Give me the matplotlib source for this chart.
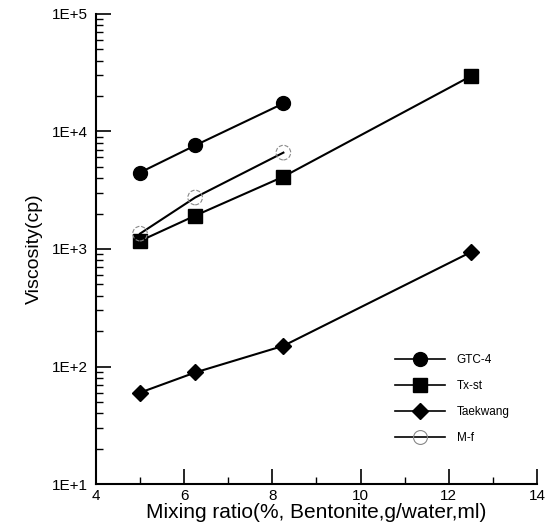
import matplotlib.pyplot as plt
from matplotlib.lines import Line2D
from matplotlib.legend_handler import HandlerTuple
from matplotlib.ticker import FixedLocator, LogLocator, NullFormatter

plt.rcParams['font.family'] = ['Liberation Sans', 'DejaVu Sans']

# mixing ratio (%) and viscosity (cp)
gtc_x = [5, 6.25, 8.25]
gtc_y = [4470, 7600, 17300]
txst_x = [5, 6.25, 8.25, 12.5]
txst_y = [1170, 1920, 4120, 29500]
taek_x = [5, 6.25, 8.25, 12.5]
taek_y = [60, 89, 150, 940]
mf_x = [5, 6.25, 8.25]
mf_y = [1350, 2740, 6600]

x_ticks = [4, 6, 8, 10, 12, 14]
y_ticks = [10, 100, 1000, 10000, 100000]
y_labels = ['1E+1', '1E+2', '1E+3', '1E+4', '1E+5']

fig = plt.figure(figsize=(5.48, 5.32), dpi=100)
ax = fig.add_axes([0.175, 0.09, 0.805, 0.884])

ax.plot(gtc_x, gtc_y, color='black', lw=1.5, marker='o', ms=10)
ax.plot(txst_x, txst_y, color='black', lw=1.5, marker='s', ms=10)
ax.plot(taek_x, taek_y, color='black', lw=1.5, marker='D', ms=8)
ax.plot(mf_x, mf_y, color='black', lw=1.5)
ax.scatter(mf_x, mf_y, s=110, facecolors='none', edgecolors='#888888',
           linestyles='--', linewidths=0.8, zorder=3)

ax.set_yscale('log')
ax.set_xlim(4, 14)
ax.set_ylim(10, 100000)
ax.xaxis.set_major_locator(FixedLocator(x_ticks))
ax.set_xticklabels([str(t) for t in x_ticks])
ax.xaxis.set_minor_locator(FixedLocator([5, 7, 9, 11, 13]))
ax.yaxis.set_major_locator(FixedLocator(y_ticks))
ax.set_yticklabels(y_labels)
ax.yaxis.set_minor_locator(LogLocator(base=10, subs=range(2, 10)))
ax.yaxis.set_minor_formatter(NullFormatter())

ax.tick_params(which='major', direction='in', length=11, width=1.2, labelsize=11)
ax.tick_params(which='minor', direction='in', length=5, width=1)
ax.tick_params(axis='y', which='major', pad=6)
for s in ['top', 'right']:
    ax.spines[s].set_visible(False)
for s in ['left', 'bottom']:
    ax.spines[s].set_linewidth(1.5)

ax.set_xlabel('Mixing ratio(%, Bentonite,g/water,ml)', fontsize=15, labelpad=0)
ax.set_ylabel('Viscosity(cp)', fontsize=14, labelpad=6)

h1 = Line2D([], [], color='black', lw=1.2, marker='o', ms=10)
h2 = Line2D([], [], color='black', lw=1.2, marker='s', ms=10)
h3 = Line2D([], [], color='black', lw=1.2, marker='D', ms=8)
h4_line = Line2D([], [], color='black', lw=1.2)
h4_mark = Line2D([], [], ls='none', marker='o', ms=10, mfc='none',
                 mec='#888888', mew=0.8)
ax.legend([h1, h2, h3, (h4_line, h4_mark)], ['GTC-4', 'Tx-st', 'Taekwang', 'M-f'],
          handler_map={tuple: HandlerTuple(ndivide=1, pad=0)},
          loc='upper left', bbox_to_anchor=(0.655, 0.30), frameon=False,
          fontsize=8.5, handlelength=4.2, labelspacing=1.2, handletextpad=1.0)

fig.savefig('out.png', dpi=100)
